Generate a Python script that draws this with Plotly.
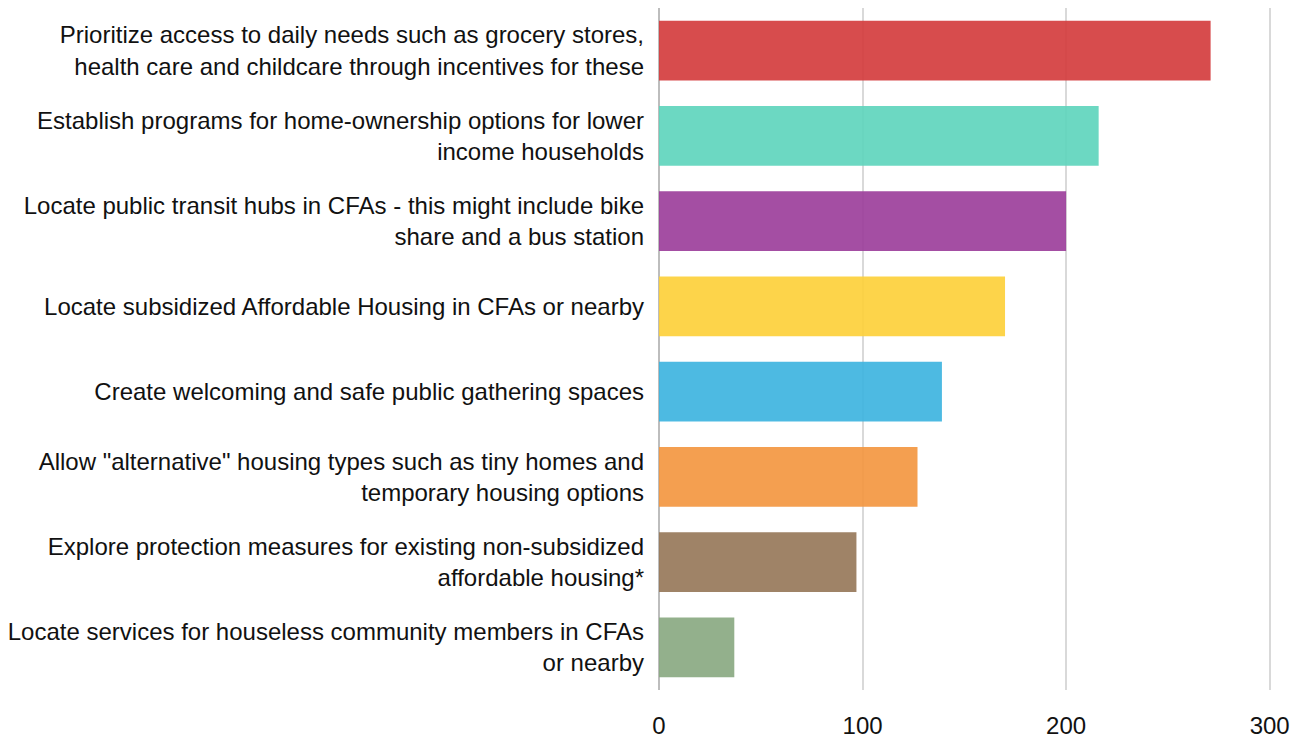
import plotly.graph_objects as go

categories = [
    "Prioritize access to daily needs such as grocery stores,<br>health care and childcare through incentives for these",
    "Establish programs for home-ownership options for lower<br>income households",
    "Locate public transit hubs in CFAs - this might include bike<br>share and a bus station",
    "Locate subsidized Affordable Housing in CFAs or nearby",
    "Create welcoming and safe public gathering spaces",
    "Allow \"alternative\" housing types such as tiny homes and<br>temporary housing options",
    "Explore protection measures for existing non-subsidized<br>affordable housing*",
    "Locate services for houseless community members in CFAs<br>or nearby",
]
values = [271, 216, 200, 170, 139, 127, 97, 37]
colors = [
    "rgb(211,56,58)",
    "rgb(92,212,187)",
    "rgb(154,59,153)",
    "rgb(253,207,54)",
    "rgb(58,178,223)",
    "rgb(243,149,61)",
    "rgb(149,117,87)",
    "rgb(135,167,127)",
]
x_ticks = [0, 100, 200, 300]

FONT = "Liberation Sans Narrow, Arial Narrow, Liberation Sans, Arial, sans-serif"

fig = go.Figure(
    go.Bar(
        x=values,
        y=categories,
        orientation="h",
        marker=dict(color=colors, opacity=0.9, line=dict(width=0)),
        hoverinfo="x+y",
    )
)

# page body has an 8px default margin, so the figure is sized to fit the window
fig.update_layout(
    width=1291,
    height=732,
    margin=dict(l=651, r=9, t=0, b=50),
    paper_bgcolor="white",
    plot_bgcolor="white",
    bargap=0.3,
    showlegend=False,
    font=dict(family=FONT, size=24, color="#111111"),
)
fig.update_xaxes(
    range=[0, 310],
    tickvals=x_ticks,
    showgrid=True,
    gridcolor="#d9d9d9",
    gridwidth=1.5,
    zeroline=True,
    zerolinecolor="#bdbdbd",
    zerolinewidth=2,
    showline=False,
    ticks="",
    ticklabelstandoff=19,
    automargin=False,
    tickfont=dict(family=FONT, size=24, color="#111111"),
)
fig.update_yaxes(
    autorange="reversed",
    showgrid=False,
    ticks="",
    ticklabelstandoff=14,
    automargin=False,
    tickfont=dict(family=FONT, size=24, color="#111111"),
)

fig.write_html("out.html")
